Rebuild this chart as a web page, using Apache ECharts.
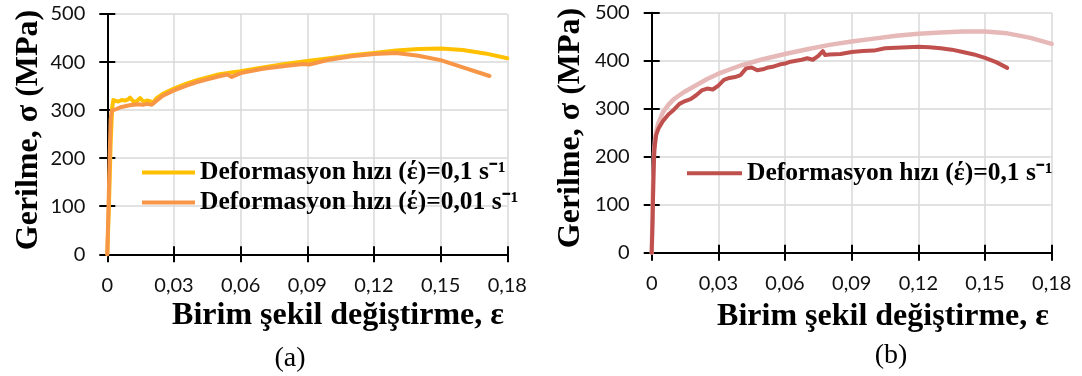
<!DOCTYPE html>
<html>
<head>
<meta charset="utf-8">
<script src="https://cdn.jsdelivr.net/npm/echarts@6/dist/echarts.min.js"></script>
<style>
html,body{margin:0;padding:0;background:#fff;}
#chart{width:1082px;height:376px;}
</style>
</head>
<body>
<div id="chart"></div>
<script>
// ---- tick values ----
var xTicks = [0, 0.03, 0.06, 0.09, 0.12, 0.15, 0.18];
var yTicks = [0, 100, 200, 300, 400, 500];

// ---- texts ----
var yTitle = 'Gerilme, σ (MPa)';
var xTitle = 'Birim şekil değiştirme, ε';
var nameFast = 'Deformasyon hızı (έ)=0,1 s⁻¹';
var nameSlow = 'Deformasyon hızı (έ)=0,01 s⁻¹';
var captionA = '(a)';
var captionB = '(b)';

// ---- panel (a): strain rate 0.1 s^-1 ----
var strainA1 = [0, 0.0008, 0.0015, 0.0022, 0.0027, 0.004, 0.005, 0.0065, 0.008, 0.0092, 0.0103, 0.0115, 0.0128, 0.0138, 0.0148, 0.0158, 0.0168, 0.0178, 0.0186, 0.0195, 0.0205, 0.0222, 0.025, 0.03, 0.035, 0.04, 0.045, 0.05, 0.055, 0.06, 0.07, 0.08, 0.09, 0.10, 0.11, 0.12, 0.13, 0.14, 0.15, 0.16, 0.17, 0.18];
var stressA1 = [0, 110, 230, 305, 321, 319, 318, 321, 320, 322, 326, 319, 317, 321, 325, 320, 318, 320, 323, 318, 315, 325, 334, 345, 354, 362, 368, 374, 378, 381, 389, 396, 402, 408, 414, 419, 424, 427, 428, 425, 418, 408];

// ---- panel (a): strain rate 0.01 s^-1 ----
var strainA2 = [0, 0.0005, 0.001, 0.0015, 0.002, 0.004, 0.006, 0.008, 0.01, 0.012, 0.014, 0.016, 0.018, 0.02, 0.022, 0.025, 0.03, 0.035, 0.04, 0.045, 0.05, 0.054, 0.056, 0.06, 0.07, 0.08, 0.088, 0.091, 0.10, 0.11, 0.12, 0.13, 0.14, 0.15, 0.16, 0.172];
var stressA2 = [0, 90, 190, 280, 299, 302, 306, 308, 310, 311, 312, 311, 313, 311, 319, 330, 341, 350, 358, 364, 370, 374, 369, 377, 386, 392, 396, 395, 405, 412, 417, 419, 413, 404, 389, 371];

// ---- panel (b): light curve (no legend entry) ----
var strainB1 = [0, 0.0003, 0.0006, 0.001, 0.0015, 0.002, 0.003, 0.005, 0.0075, 0.01, 0.0125, 0.015, 0.02, 0.025, 0.03, 0.04, 0.05, 0.06, 0.07, 0.08, 0.09, 0.10, 0.11, 0.12, 0.13, 0.14, 0.15, 0.16, 0.17, 0.18];
var stressB1 = [0, 60, 140, 205, 235, 252, 270, 292, 308, 320, 328, 336, 349, 362, 373, 390, 403, 414, 424, 433, 440, 446, 452, 456, 459, 461, 461, 457, 448, 435];

// ---- panel (b): strain rate 0.1 s^-1 ----
var strainB2 = [0, 0.0004, 0.0008, 0.0012, 0.002, 0.003, 0.005, 0.0075, 0.01, 0.0125, 0.015, 0.0175, 0.02, 0.0225, 0.025, 0.0275, 0.03, 0.0325, 0.035, 0.0375, 0.04, 0.0425, 0.045, 0.0475, 0.05, 0.0525, 0.055, 0.0575, 0.06, 0.0625, 0.065, 0.0675, 0.07, 0.0725, 0.075, 0.077, 0.078, 0.08, 0.085, 0.09, 0.095, 0.10, 0.105, 0.11, 0.115, 0.12, 0.125, 0.13, 0.135, 0.14, 0.145, 0.15, 0.155, 0.16];
var stressB2 = [0, 70, 160, 215, 245, 258, 274, 288, 298, 310, 316, 320, 328, 338, 342, 340, 348, 360, 364, 366, 370, 384, 386, 380, 382, 386, 388, 392, 394, 398, 400, 402, 405, 402, 410, 420, 412, 413, 414, 418, 420, 421, 426, 427, 428, 429, 428, 426, 423, 418, 413, 406, 397, 385];

function pairs(xs, ys) { return xs.map(function (x, i) { return [x, ys[i]]; }); }

var axisFont = { fontFamily: 'Lato', fontSize: 20, color: '#111' };
var tickStyle = { color: '#000', width: 2 };

function xAxes(gridIndex) {
  var base = {
    type: 'value', gridIndex: gridIndex, position: 'bottom',
    min: xTicks[0], max: xTicks[xTicks.length - 1], interval: xTicks[1] - xTicks[0]
  };
  return [
    Object.assign({}, base, {
      axisLine: { show: true, onZero: false, lineStyle: { color: '#000', width: 2 } },
      axisTick: { show: true, inside: false, length: 8, lineStyle: tickStyle },
      axisLabel: Object.assign({ margin: 21, formatter: function (v) { return v === 0 ? '0' : v.toFixed(2).replace('.', ','); } }, axisFont),
      splitLine: { show: true, lineStyle: { color: '#d9d9d9', width: 1.5 } }
    }),
    Object.assign({}, base, {
      axisLine: { show: false, onZero: false },
      axisTick: { show: true, inside: true, length: 8, lineStyle: tickStyle },
      axisLabel: { show: false },
      splitLine: { show: false }
    })
  ];
}
function yAxes(gridIndex) {
  var base = {
    type: 'value', gridIndex: gridIndex, position: 'left',
    min: yTicks[0], max: yTicks[yTicks.length - 1], interval: yTicks[1] - yTicks[0]
  };
  return [
    Object.assign({}, base, {
      axisLine: { show: true, onZero: false, lineStyle: { color: '#000', width: 2 } },
      axisTick: { show: true, inside: false, length: 8, lineStyle: tickStyle },
      axisLabel: Object.assign({ margin: 22 }, axisFont),
      splitLine: { show: true, lineStyle: { color: '#d9d9d9', width: 1.5 } }
    }),
    Object.assign({}, base, {
      axisLine: { show: false, onZero: false },
      axisTick: { show: true, inside: true, length: 8, lineStyle: tickStyle },
      axisLabel: { show: false },
      splitLine: { show: false }
    })
  ];
}

function lineSeries(name, data, color, xi, yi, w) {
  return {
    type: 'line', name: name, data: data, xAxisIndex: xi, yAxisIndex: yi,
    showSymbol: false, symbol: 'none', clip: false,
    lineStyle: { color: color, width: w || 4, cap: 'round', join: 'round' },
    itemStyle: { color: color }, emphasis: { disabled: true }, animation: false
  };
}

var legendText = { fontFamily: 'Liberation Serif', fontWeight: 'bold', fontSize: 25.5, color: '#000', lineHeight: 25.5 };
var titleFont = { fontFamily: 'Liberation Serif', fontWeight: 'bold', fontSize: 32, fill: '#000' };
var capFont = { fontFamily: 'Liberation Serif', fontSize: 28, fill: '#000' };

var option = {
  animation: false,
  backgroundColor: '#fff',
  grid: [
    { left: 107.3, top: 14, width: 400, height: 240.3 },
    { left: 651.7, top: 12.7, width: 400, height: 240 }
  ],
  xAxis: xAxes(0).concat(xAxes(1)),
  yAxis: yAxes(0).concat(yAxes(1)),
  legend: [
    {
      orient: 'vertical', left: 142, top: 159.5, padding: 0, itemGap: 3.9,
      itemWidth: 53, itemHeight: 4, icon: 'rect', selectedMode: false,
      textStyle: legendText,
      data: [
        { name: nameFast, itemStyle: { color: '#FFC000' } },
        { name: nameSlow, itemStyle: { color: '#F79646' } }
      ]
    },
    {
      orient: 'vertical', left: 687, top: 160.3, padding: 0,
      itemWidth: 55, itemHeight: 4, icon: 'rect', selectedMode: false,
      textStyle: legendText,
      data: [ { name: nameFast + ' ', itemStyle: { color: '#C0504D' } } ]
    }
  ],
  series: [
    lineSeries(nameFast, pairs(strainA1, stressA1), '#FFC000', 0, 0),
    lineSeries(nameSlow, pairs(strainA2, stressA2), '#F79646', 0, 0),
    lineSeries('b-light', pairs(strainB1, stressB1), '#E6B9B8', 2, 2, 4.5),
    lineSeries(nameFast + ' ', pairs(strainB2, stressB2), '#C0504D', 2, 2)
  ],
  graphic: [
    { type: 'text', x: 29, y: 130, rotation: Math.PI / 2, style: Object.assign({ text: yTitle, align: 'center', verticalAlign: 'middle' }, titleFont) },
    { type: 'text', x: 571, y: 128, rotation: Math.PI / 2, style: Object.assign({ text: yTitle, align: 'center', verticalAlign: 'middle' }, titleFont) },
    { type: 'text', x: 338, y: 316, style: Object.assign({ text: xTitle, align: 'center', verticalAlign: 'middle' }, titleFont) },
    { type: 'text', x: 883, y: 317, style: Object.assign({ text: xTitle, align: 'center', verticalAlign: 'middle' }, titleFont) },
    { type: 'text', x: 290, y: 359, style: Object.assign({ text: captionA, align: 'center', verticalAlign: 'middle' }, capFont) },
    { type: 'text', x: 891, y: 356, style: Object.assign({ text: captionB, align: 'center', verticalAlign: 'middle' }, capFont) }
  ]
};

var chart = echarts.init(document.getElementById('chart'), null, { renderer: 'canvas' });
chart.setOption(option);
</script>
</body>
</html>
